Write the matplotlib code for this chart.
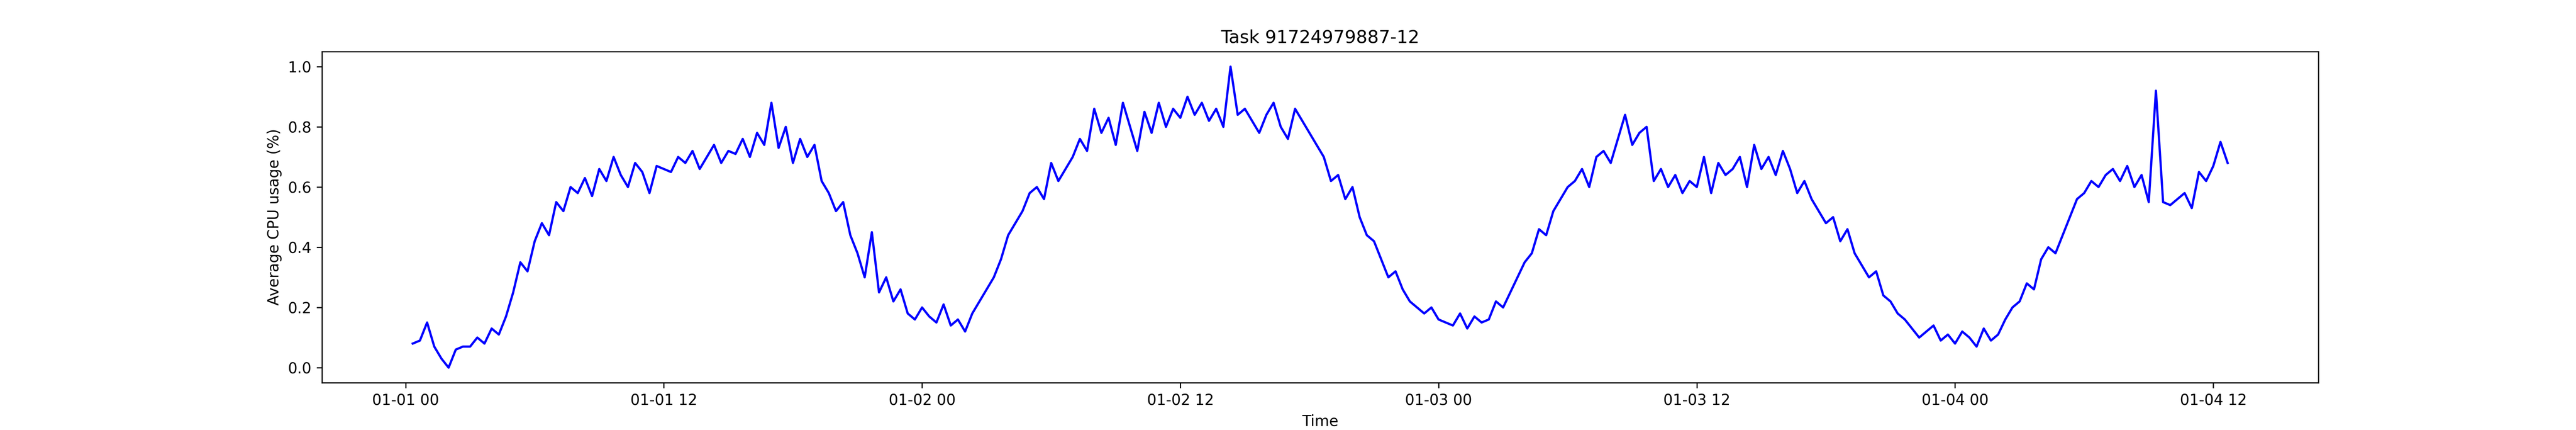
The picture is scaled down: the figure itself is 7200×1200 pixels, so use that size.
import numpy as np
import pandas as pd
import matplotlib
matplotlib.use("Agg")
import matplotlib.pyplot as plt
import matplotlib.dates as mdates

title = "Task 91724979887-12"
start = "2024-01-01 00:20"
step = "20min"

cpu = [
    .08, .09, .15, .07, .03, .00, .06, .07, .07, .10, .08, .13,
    .11, .17, .25, .35, .32, .42, .48, .44, .55, .52, .60, .58,
    .63, .57, .66, .62, .70, .64, .60, .68, .65, .58, .67, .66,
    .65, .70, .68, .72, .66, .70, .74, .68, .72, .71, .76, .70,
    .78, .74, .88, .73, .80, .68, .76, .70, .74, .62, .58, .52,
    .55, .44, .38, .30, .45, .25, .30, .22, .26, .18, .16, .20,
    .17, .15, .21, .14, .16, .12, .18, .22, .26, .30, .36, .44,
    .48, .52, .58, .60, .56, .68, .62, .66, .70, .76, .72, .86,
    .78, .83, .74, .88, .80, .72, .85, .78, .88, .80, .86, .83,
    .90, .84, .88, .82, .86, .80, 1.00, .84, .86, .82, .78, .84,
    .88, .80, .76, .86, .82, .78, .74, .70, .62, .64, .56, .60,
    .50, .44, .42, .36, .30, .32, .26, .22, .20, .18, .20, .16,
    .15, .14, .18, .13, .17, .15, .16, .22, .20, .25, .30, .35,
    .38, .46, .44, .52, .56, .60, .62, .66, .60, .70, .72, .68,
    .76, .84, .74, .78, .80, .62, .66, .60, .64, .58, .62, .60,
    .70, .58, .68, .64, .66, .70, .60, .74, .66, .70, .64, .72,
    .66, .58, .62, .56, .52, .48, .50, .42, .46, .38, .34, .30,
    .32, .24, .22, .18, .16, .13, .10, .12, .14, .09, .11, .08,
    .12, .10, .07, .13, .09, .11, .16, .20, .22, .28, .26, .36,
    .40, .38, .44, .50, .56, .58, .62, .60, .64, .66, .62, .67,
    .60, .64, .55, .92, .55, .54, .56, .58, .53, .65, .62, .67,
    .75, .68,
]
times = pd.date_range(start, periods=len(cpu), freq=step)

fig, ax = plt.subplots(figsize=(24, 4))
ax.plot(times, cpu, color="blue")
ax.set_title(title)
ax.set_xlabel("Time")
ax.set_ylabel("Average CPU usage (%)")
ax.xaxis.set_major_locator(mdates.HourLocator(byhour=[0, 12]))
ax.xaxis.set_major_formatter(mdates.DateFormatter("%m-%d %H"))
plt.savefig("out.png", dpi=300)
